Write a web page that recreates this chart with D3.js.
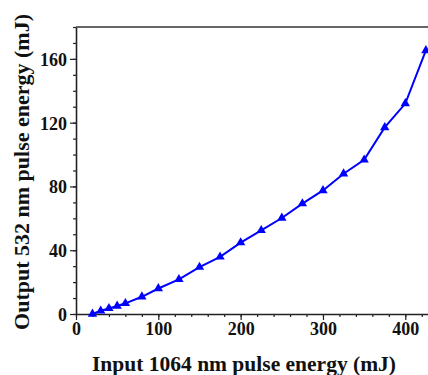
<!DOCTYPE html>
<html>
<head>
<meta charset="utf-8">
<script src="https://cdn.jsdelivr.net/npm/d3@7"></script>
<style>
  body { margin: 0; background: #fff; }
  text { font-family: "Liberation Serif", "DejaVu Serif", serif; font-weight: bold; fill: #111; }
</style>
</head>
<body>
<div id="chart"></div>
<script>
var inputEnergy = [20, 30, 40, 50, 60, 80, 100, 125, 150, 175, 200, 225, 250, 275, 300, 325, 350, 375, 400, 425];
var outputEnergy = [0, 2, 3.5, 5, 6.7, 10.8, 16, 21.7, 29.4, 35.8, 44.8, 52.5, 60.2, 69.2, 77.5, 88, 96.7, 117, 132, 165.3];
var xTicks = [0, 100, 200, 300, 400];
var yTicks = [0, 40, 80, 120, 160];

function init(){
    var width = 428, height = 375;
    var margin = {top: 27, right: -2, bottom: 61, left: 76};
    var w = width - margin.left - margin.right;
    var h = height - margin.top - margin.bottom;

    var svg = d3.select("#chart")
                .append("svg")
                .attr("width", width)
                .attr("height", height);

    var g = svg.append("g")
               .attr("transform", "translate(" + margin.left + "," + margin.top + ")");

    var xScale = d3.scaleLinear().domain([0, 430]).range([0, w]);
    var yScale = d3.scaleLinear().domain([0, 180]).range([h, 0]);

    // minor ticks
    g.append("g")
     .attr("transform", "translate(0," + h + ")")
     .call(d3.axisBottom(xScale).tickValues(d3.range(0, 431, 20)).tickSize(3).tickFormat(""))
     .call(function(a){ a.select(".domain").remove(); });
    g.append("g")
     .call(d3.axisLeft(yScale).tickValues(d3.range(0, 181, 10)).tickSize(3).tickFormat(""))
     .call(function(a){ a.select(".domain").remove(); });

    var xAxis = g.append("g")
     .attr("transform", "translate(0," + h + ")")
     .call(d3.axisBottom(xScale).tickValues(xTicks).tickSize(6).tickPadding(2).tickSizeOuter(0));
    var yAxis = g.append("g")
     .call(d3.axisLeft(yScale).tickValues(yTicks).tickSize(6).tickPadding(3).tickSizeOuter(0));

    [xAxis, yAxis].forEach(function(a){
        a.selectAll("text").style("font-size", "18px").attr("fill", "#111");
        a.select(".domain").attr("stroke", "#222").attr("stroke-width", 1.6);
    });
    g.selectAll(".tick line").attr("stroke", "#222").attr("stroke-width", 1.2);
    yAxis.selectAll("text").attr("dy", "0.36em");

    // top frame line
    g.append("line")
     .attr("x1", 0).attr("x2", w + 5)
     .attr("y1", 0).attr("y2", 0)
     .attr("stroke", "#333").attr("stroke-width", 1.6);

    var line = d3.line()
                 .x(function(d, i){ return xScale(inputEnergy[i]); })
                 .y(function(d){ return yScale(d); });

    g.append("path")
     .datum(outputEnergy)
     .attr("fill", "none")
     .attr("stroke", "#0000ff")
     .attr("stroke-width", 2)
     .attr("d", line);

    var tri = d3.symbol().type(d3.symbolTriangle).size(38);
    g.selectAll(".pt")
     .data(outputEnergy)
     .enter().append("path")
     .attr("class", "pt")
     .attr("d", tri)
     .attr("fill", "#0000ff")
     .attr("transform", function(d, i){ return "translate(" + xScale(inputEnergy[i]) + "," + yScale(d) + ")"; });

    svg.append("text")
       .attr("x", 244).attr("y", 371)
       .attr("text-anchor", "middle")
       .style("font-size", "21.5px")
       .text("Input 1064 nm pulse energy (mJ)");

    svg.append("text")
       .attr("transform", "translate(29,172) rotate(-90)")
       .attr("text-anchor", "middle")
       .style("font-size", "22px")
       .text("Output 532 nm pulse energy (mJ)");
}
window.onload = init;
</script>
</body>
</html>
